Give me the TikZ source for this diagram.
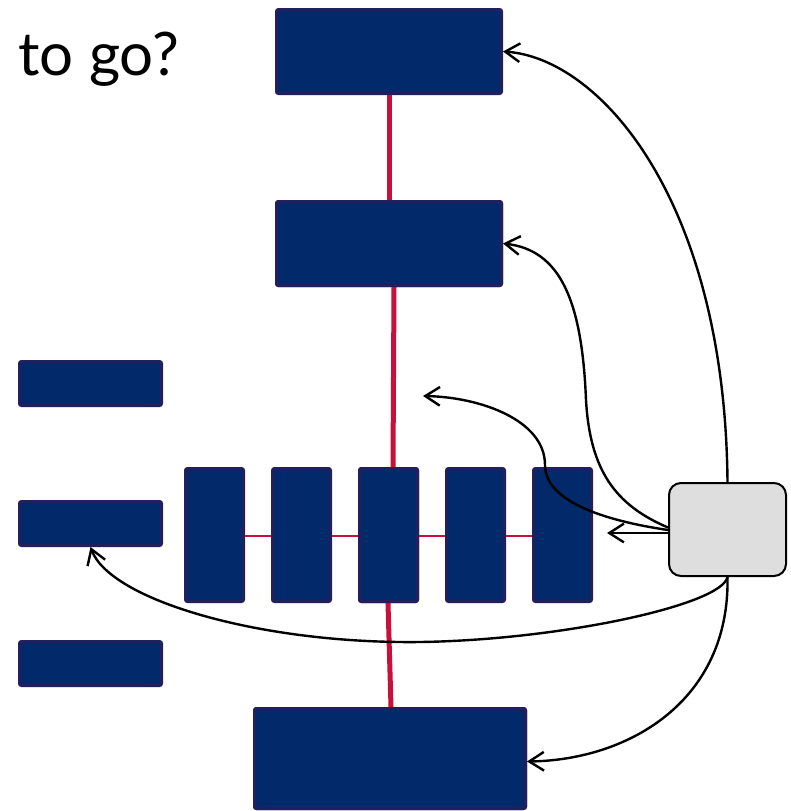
\documentclass[tikz,border=0pt]{standalone}
\usepackage{fontspec}
\setmainfont{Lato}
\usetikzlibrary{arrows.meta,calc}
\definecolor{navyfill}{RGB}{2,41,106}
\definecolor{navyedge}{RGB}{35,31,94}
\definecolor{linkred}{RGB}{200,16,60}
\definecolor{greyfill}{RGB}{222,222,222}
\tikzset{
  navybox/.style={draw=navyedge, fill=navyfill, line width=2.25pt, rounded corners=1.5pt, inner sep=0pt},
  wide/.style={navybox, minimum width=168.75pt, minimum height=63pt},
  small/.style={navybox, minimum width=106.5pt, minimum height=33pt},
  tall/.style={navybox, minimum width=43.5pt, minimum height=99.75pt},
  greybox/.style={draw=black, fill=greyfill, line width=1.5pt, rounded corners=9pt, minimum width=87.75pt, minimum height=69.75pt, inner sep=0pt},
  thickred/.style={draw=linkred, line width=3.75pt},
  thinred/.style={draw=linkred, line width=1.5pt},
  conn/.style={draw=black, line width=1.8pt, -{Straight Barb[length=11pt,width=14pt]}},
}
\begin{document}
\begin{tikzpicture}[x=0.75pt,y=-0.75pt]
\useasboundingbox (0,0) rectangle (790,811);
\node[anchor=base west, inner sep=0pt, font=\fontsize{45}{50}\selectfont] (title) at (18,75) {to go?};
% boxes
\node[wide] (A) at (389,51.5) {};
\node[wide] (B) at (389,243.5) {};
\node[small] (L1) at (90.5,383.5) {};
\node[small] (L2) at (90.5,523.5) {};
\node[small] (L3) at (90.5,663.5) {};
\node[tall] (T1) at (214.5,535) {};
\node[tall] (T2) at (301.5,535) {};
\node[tall] (T3) at (388.5,535) {};
\node[tall] (T4) at (475.5,535) {};
\node[tall] (T5) at (562.5,535) {};
\node[navybox, minimum width=203.25pt, minimum height=75pt] (Bot) at (390,758.5) {};
\node[greybox] (G) at (727.5,529.5) {};
% red links
\draw[thickred] (A.south) -- (B.south);
\draw[thickred] ($(B.south)+(5,0)$) -- ($(T3.north)+(4.5,0)$);
\draw[thickred] ($(T3.south)+(-0.5,0)$) -- ($(Bot.north)+(1,0)$);
\draw[thinred] ($(T1.east)+(0,1)$) -- ($(T2.west)+(0,1)$);
\draw[thinred] ($(T2.east)+(0,1)$) -- ($(T3.west)+(0,1)$);
\draw[thinred] ($(T3.east)+(0,1)$) -- ($(T4.west)+(0,1)$);
\draw[thinred] ($(T4.east)+(0,1)$) -- ($(T5.west)+(0,1)$);
% redraw boxes over link ends
\node[wide] at (B) {};
\node[tall] at (T3) {};
\node[navybox, minimum width=203.25pt, minimum height=75pt] at (Bot) {};
% connectors
\coordinate (p3) at (423,396);
\coordinate (p4) at (607,533);
\draw[conn] (G.north) .. controls (725,200) and (600,58) .. (A.east);
\draw[conn] ($(G.west)+(0,-2)$) .. controls (615,505) and (590,470) .. (586,400) .. controls (582,300) and (560,250) .. (B.east);
\draw[conn] ($(G.west)+(0,0.5)$) .. controls (600,520) and (545,500) .. (545,465) .. controls (545,420) and (480,397) .. (p3);
\draw[conn] ($(G.west)+(0,3.5)$) -- (p4);
\draw[conn] (G.south) .. controls (722,605) and (560,640) .. (420,642) .. controls (260,644) and (110,600) .. (L2.south);
\draw[conn] (G.south) .. controls (730,700) and (630,760) .. ($(Bot.east)+(0,3)$);
\end{tikzpicture}
\end{document}
